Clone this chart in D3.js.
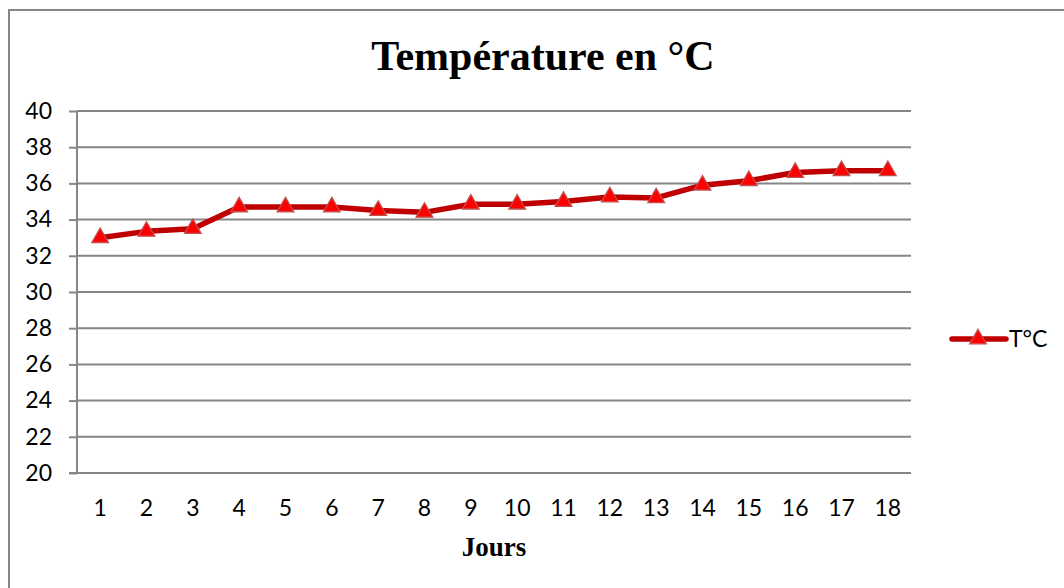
<!DOCTYPE html>
<html>
<head>
<meta charset="utf-8">
<script src="https://cdn.jsdelivr.net/npm/d3@7"></script>
<style>
  html, body { margin: 0; padding: 0; background: #fff; }
  svg { display: block; }
</style>
</head>
<body>
<svg id="chart" width="1064" height="588"></svg>
<script>
const days = ["1","2","3","4","5","6","7","8","9","10","11","12","13","14","15","16","17","18"];
const temps = [33.0, 33.35, 33.5, 34.7, 34.7, 34.7, 34.5, 34.4, 34.85, 34.85, 35.0, 35.25, 35.2, 35.9, 36.15, 36.6, 36.7, 36.7];
const yTicks = [20, 22, 24, 26, 28, 30, 32, 34, 36, 38, 40];
const seriesName = "T°C";
const titleText = "Température en °C";
const xTitle = "Jours";

const svg = d3.select("#chart");
const gray = "#868686";
const lineColor = "#C00000";
const markerFill = "#FF0000";
const markerStroke = "#C0504D";
const labelFont = "Lato, 'Open Sans', sans-serif";
const labelSize = "23px";

// outer frame
svg.append("rect").attr("x", 9).attr("y", 10).attr("width", 1100).attr("height", 640)
  .attr("fill", "none").attr("stroke", gray).attr("stroke-width", 2);

const pLeft = 77, pRight = 911, pTop = 111, pBottom = 473;
const x = d3.scaleBand().domain(days).range([pLeft, pRight]);
const y = d3.scaleLinear().domain([20, 40]).range([pBottom, pTop]);

// gridlines
svg.append("g").selectAll("line").data(yTicks.filter(d => d !== 20)).join("line")
  .attr("x1", pLeft).attr("x2", pRight)
  .attr("y1", d => y(d)).attr("y2", d => y(d))
  .attr("stroke", gray).attr("stroke-width", 2);

// y axis
const yAxis = svg.append("g").attr("transform", `translate(${pLeft},0)`)
  .call(d3.axisLeft(y).tickValues(yTicks).tickSize(8).tickPadding(17).tickFormat(d3.format("d")));
yAxis.select(".domain").attr("stroke", gray).attr("stroke-width", 2).attr("d", `M0,${pTop}V${pBottom}`);
yAxis.selectAll(".tick line").attr("stroke", gray).attr("stroke-width", 2);
yAxis.selectAll(".tick text").attr("fill", "#000").style("font-family", labelFont).style("font-size", labelSize);

// x axis
const xAxis = svg.append("g").attr("transform", `translate(0,${pBottom})`)
  .call(d3.axisBottom(x).tickSize(0).tickPadding(27));
xAxis.select(".domain").attr("stroke", gray).attr("stroke-width", 2).attr("d", `M${pLeft - 8},0H${pRight}`);
xAxis.selectAll(".tick text").attr("fill", "#000").style("font-family", labelFont).style("font-size", labelSize);

// line
const cx = d => x(d) + x.bandwidth() / 2;
const line = d3.line().x((d, i) => cx(days[i])).y(d => y(d));
svg.append("path").datum(temps).attr("d", line)
  .attr("fill", "none").attr("stroke", lineColor).attr("stroke-width", 5.5).attr("stroke-linejoin", "round");

const tri = d3.symbol().type(d3.symbolTriangle).size(120);
svg.append("g").selectAll("path").data(temps).join("path")
  .attr("d", tri)
  .attr("transform", (d, i) => `translate(${cx(days[i])},${y(d)})`)
  .attr("fill", markerFill).attr("stroke", markerStroke).attr("stroke-width", 1.3);

// title
svg.append("text").attr("x", 543).attr("y", 70).attr("text-anchor", "middle")
  .style("font-family", "'Liberation Serif', 'Times New Roman', serif")
  .style("font-weight", "bold").style("font-size", "42px").text(titleText);

svg.append("text").attr("x", 494).attr("y", 556).attr("text-anchor", "middle")
  .style("font-family", "'Liberation Serif', 'Times New Roman', serif")
  .style("font-weight", "bold").style("font-size", "27px").text(xTitle);

// legend
const lg = svg.append("g");
lg.append("line").attr("x1", 952).attr("x2", 1006).attr("y1", 339).attr("y2", 339)
  .attr("stroke", lineColor).attr("stroke-width", 5.5).attr("stroke-linecap", "round");
lg.append("path").attr("d", tri).attr("transform", "translate(978,339)")
  .attr("fill", markerFill).attr("stroke", markerStroke).attr("stroke-width", 1.3);
lg.append("text").attr("x", 1009).attr("y", 347)
  .style("font-family", labelFont).style("font-size", labelSize).text(seriesName);
</script>
</body>
</html>
